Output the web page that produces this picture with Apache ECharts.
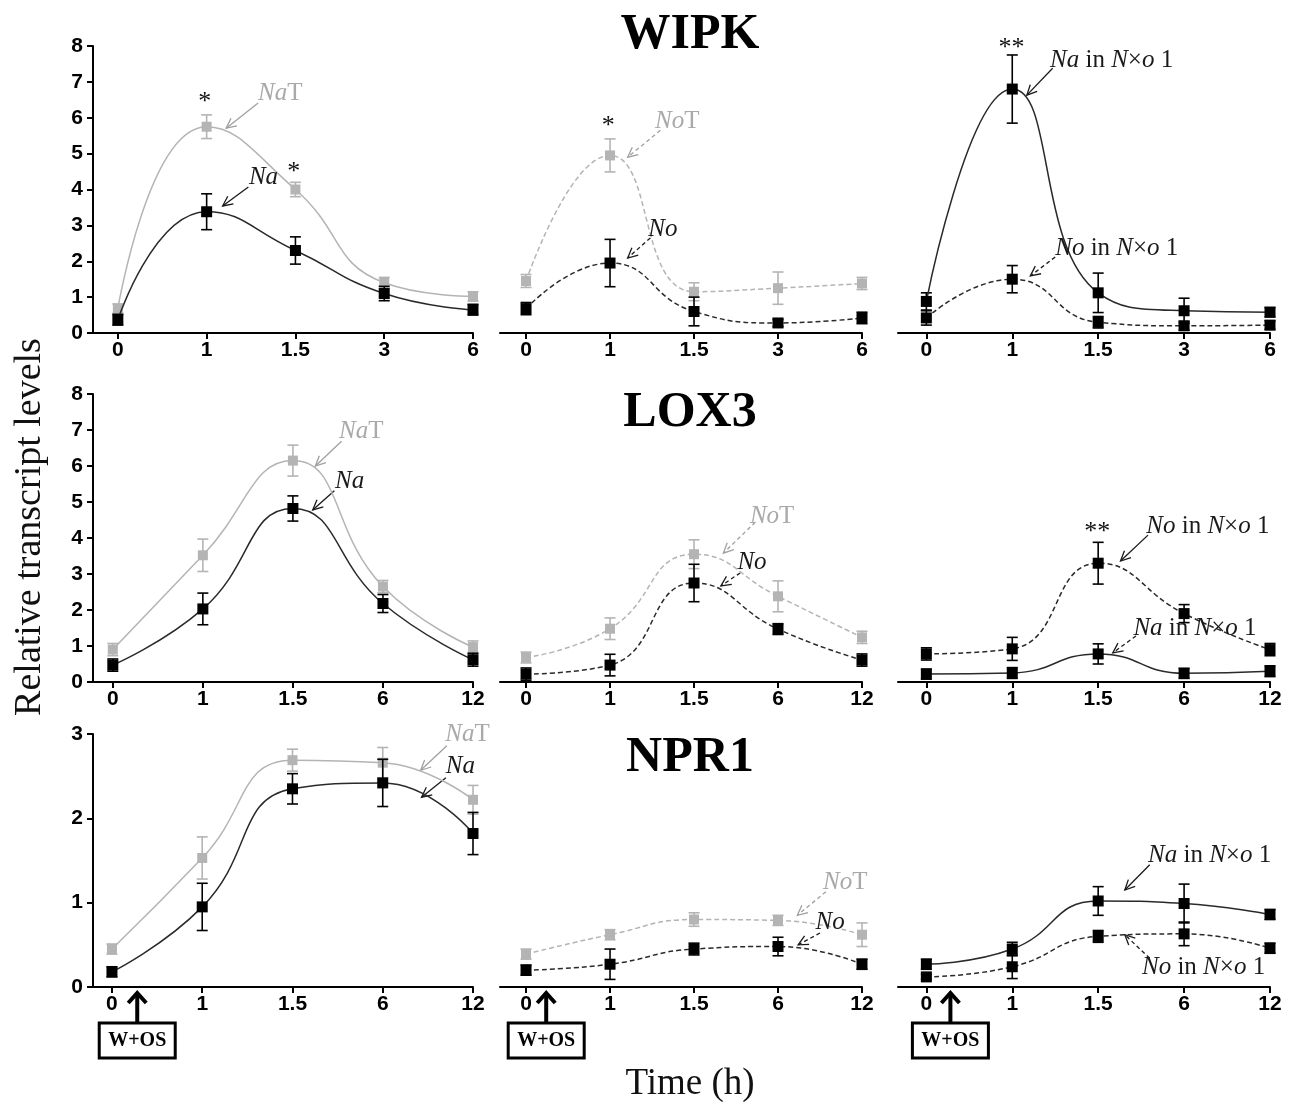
<!DOCTYPE html>
<html>
<head>
<meta charset="utf-8">
<script src="https://cdn.jsdelivr.net/npm/echarts@6/dist/echarts.min.js"></script>
<style>
  html, body { margin: 0; padding: 0; background: #fff; }
  #chart { width: 1289px; height: 1104px; }
</style>
</head>
<body>
<div id="chart"></div>
<script>
// ---- sampling times (tick labels) ----
const timesWIPK = ['0', '1', '1.5', '3', '6'];
const timesLate = ['0', '1', '1.5', '6', '12'];

// ---- WIPK ----
const wipkNaT = [0.68, 5.75, 4.0, 1.4, 1.02];
const wipkNaTErr = [0.13, 0.33, 0.2, 0.15, 0.13];
const wipkNa = [0.37, 3.38, 2.3, 1.1, 0.65];
const wipkNaErr = [0.15, 0.5, 0.38, 0.2, 0.15];
const wipkNoT = [1.45, 4.95, 1.15, 1.25, 1.38];
const wipkNoTErr = [0.18, 0.46, 0.25, 0.45, 0.17];
const wipkNo = [0.68, 1.95, 0.6, 0.28, 0.42];
const wipkNoErr = [0.17, 0.66, 0.4, 0.1, 0.16];
const wipkHybNa = [0.88, 6.8, 1.12, 0.62, 0.58];
const wipkHybNaErr = [0.24, 0.95, 0.55, 0.35, 0.13];
const wipkHybNo = [0.42, 1.5, 0.3, 0.2, 0.22];
const wipkHybNoErr = [0.2, 0.38, 0.16, 0.12, 0.12];

// ---- LOX3 ----
const loxNaT = [0.9, 3.52, 6.15, 2.65, 0.97];
const loxNaTErr = [0.17, 0.45, 0.43, 0.17, 0.17];
const loxNa = [0.47, 2.03, 4.82, 2.18, 0.62];
const loxNaErr = [0.17, 0.44, 0.35, 0.25, 0.18];
const loxNoT = [0.68, 1.48, 3.55, 2.38, 1.24];
const loxNoTErr = [0.15, 0.3, 0.4, 0.43, 0.17];
const loxNo = [0.22, 0.47, 2.75, 1.47, 0.61];
const loxNoErr = [0.17, 0.3, 0.52, 0.15, 0.17];
const loxHybNo = [0.78, 0.92, 3.3, 1.9, 0.9];
const loxHybNoErr = [0.17, 0.32, 0.58, 0.25, 0.17];
const loxHybNa = [0.22, 0.25, 0.78, 0.24, 0.3];
const loxHybNaErr = [0.14, 0.15, 0.28, 0.14, 0.15];

// ---- NPR1 ----
const nprNaT = [0.45, 1.53, 2.69, 2.66, 2.22];
const nprNaTErr = [0.06, 0.25, 0.13, 0.18, 0.17];
const nprNa = [0.18, 0.95, 2.35, 2.42, 1.82];
const nprNaErr = [0.06, 0.28, 0.18, 0.28, 0.25];
const nprNoT = [0.39, 0.62, 0.8, 0.79, 0.62];
const nprNoTErr = [0.06, 0.06, 0.08, 0.06, 0.14];
const nprNo = [0.2, 0.27, 0.45, 0.48, 0.27];
const nprNoErr = [0.06, 0.18, 0.07, 0.11, 0.06];
const nprHybNa = [0.27, 0.45, 1.02, 0.99, 0.86];
const nprHybNaErr = [0.06, 0.08, 0.17, 0.23, 0.06];
const nprHybNo = [0.12, 0.24, 0.6, 0.63, 0.46];
const nprHybNoErr = [0.03, 0.14, 0.07, 0.14, 0.06];

// ---- gene titles and y-axis maxima per row ----
const geneNames = ['WIPK', 'LOX3', 'NPR1'];
const rowMax = [8, 8, 3];

// ---- layout ----
const COLS = [{ left: 93, width: 380 }, { left: 500, width: 362 }, { left: 898, width: 372 }];
const ROWS = [{ top: 46, height: 287 }, { top: 394, height: 288 }, { top: 734, height: 253 }];
const X_MIN = [[-0.28, -0.31, -0.33], [-0.22, -0.31, -0.33], [-0.21, -0.31, -0.33]];
const GRAY = '#b4b4b4';
const DARK = '#2a2a2a';
const SERIF = '"Liberation Serif", "Times New Roman", serif';
const SANS = '"Liberation Sans", Arial, sans-serif';

// rich text segments: [text, style] with i = italic, n = upright
const NaT = [['Na', 'i'], ['T', 'n']];
const NoT = [['No', 'i'], ['T', 'n']];
const Na = [['Na', 'i']];
const No = [['No', 'i']];
const NaHyb = [['Na', 'i'], [' in ', 'n'], ['N', 'i'], ['×', 'n'], ['o', 'i'], [' 1', 'n']];
const NoHyb = [['No', 'i'], [' in ', 'n'], ['N', 'i'], ['×', 'n'], ['o', 'i'], [' 1', 'n']];

const panels = [
  { row: 0, col: 0, ticks: timesWIPK,
    lines: [{ v: wipkNaT, e: wipkNaTErr, gray: true, dash: false }, { v: wipkNa, e: wipkNaErr, gray: false, dash: false }],
    notes: [
      { seg: NaT, gray: true, dash: false, label: [1.83, 6.69], align: 'center', tail: [1.58, 6.41], tip: [1.22, 5.71] },
      { seg: Na, gray: false, dash: false, label: [1.64, 4.35], align: 'center', tail: [1.47, 4.07], tip: [1.18, 3.54] }
    ],
    stars: [{ t: '*', at: [0.98, 6.43] }, { t: '*', at: [1.98, 4.48] }] },
  { row: 0, col: 1, ticks: timesWIPK,
    lines: [{ v: wipkNoT, e: wipkNoTErr, gray: true, dash: true }, { v: wipkNo, e: wipkNoErr, gray: false, dash: true }],
    notes: [
      { seg: NoT, gray: true, dash: true, label: [1.8, 5.9], align: 'center', tail: [1.6, 5.65], tip: [1.21, 4.9] },
      { seg: No, gray: false, dash: true, label: [1.63, 2.9], align: 'center', tail: [1.48, 2.65], tip: [1.21, 2.09] }
    ],
    stars: [{ t: '*', at: [0.98, 5.77] }] },
  { row: 0, col: 2, ticks: timesWIPK,
    lines: [{ v: wipkHybNa, e: wipkHybNaErr, gray: false, dash: false }, { v: wipkHybNo, e: wipkHybNoErr, gray: false, dash: true }],
    notes: [
      { seg: NaHyb, gray: false, dash: false, label: [1.44, 7.6], align: 'left', tail: [1.47, 7.38], tip: [1.17, 6.63] },
      { seg: NoHyb, gray: false, dash: true, label: [1.5, 2.37], align: 'left', tail: [1.5, 2.12], tip: [1.21, 1.59] }
    ],
    stars: [{ t: '**', at: [0.99, 7.94] }] },
  { row: 1, col: 0, ticks: timesLate,
    lines: [{ v: loxNaT, e: loxNaTErr, gray: true, dash: false }, { v: loxNa, e: loxNaErr, gray: false, dash: false }],
    notes: [
      { seg: NaT, gray: true, dash: false, label: [2.76, 6.97], align: 'center', tail: [2.54, 6.69], tip: [2.25, 6.0] },
      { seg: Na, gray: false, dash: false, label: [2.63, 5.58], align: 'center', tail: [2.46, 5.31], tip: [2.22, 4.78] }
    ],
    stars: [] },
  { row: 1, col: 1, ticks: timesLate,
    lines: [{ v: loxNoT, e: loxNoTErr, gray: true, dash: true }, { v: loxNo, e: loxNoErr, gray: false, dash: true }],
    notes: [
      { seg: NoT, gray: true, dash: true, label: [2.93, 4.61], align: 'center', tail: [2.73, 4.44], tip: [2.35, 3.58] },
      { seg: No, gray: false, dash: true, label: [2.69, 3.31], align: 'center', tail: [2.55, 3.03], tip: [2.32, 2.67] }
    ],
    stars: [] },
  { row: 1, col: 2, ticks: timesLate,
    lines: [{ v: loxHybNo, e: loxHybNoErr, gray: false, dash: true }, { v: loxHybNa, e: loxHybNaErr, gray: false, dash: false }],
    notes: [
      { seg: NoHyb, gray: false, dash: false, label: [2.56, 4.33], align: 'left', tail: [2.58, 4.08], tip: [2.26, 3.36] },
      { seg: NaHyb, gray: false, dash: true, label: [2.41, 1.5], align: 'left', tail: [2.44, 1.28], tip: [2.17, 0.81] }
    ],
    stars: [{ t: '**', at: [1.99, 4.17] }] },
  { row: 2, col: 0, ticks: timesLate,
    lines: [{ v: nprNaT, e: nprNaTErr, gray: true, dash: false }, { v: nprNa, e: nprNaErr, gray: false, dash: false }],
    notes: [
      { seg: NaT, gray: true, dash: false, label: [3.94, 2.99], align: 'center', tail: [3.71, 2.86], tip: [3.42, 2.57] },
      { seg: Na, gray: false, dash: false, label: [3.86, 2.62], align: 'center', tail: [3.7, 2.48], tip: [3.43, 2.25] }
    ],
    stars: [], stim: 0.28 },
  { row: 2, col: 1, ticks: timesLate,
    lines: [{ v: nprNoT, e: nprNoTErr, gray: true, dash: true }, { v: nprNo, e: nprNoErr, gray: false, dash: true }],
    notes: [
      { seg: NoT, gray: true, dash: true, label: [3.8, 1.24], align: 'center', tail: [3.57, 1.13], tip: [3.23, 0.85] },
      { seg: No, gray: false, dash: true, label: [3.62, 0.77], align: 'center', tail: [3.5, 0.64], tip: [3.24, 0.5] }
    ],
    stars: [], stim: 0.24 },
  { row: 2, col: 2, ticks: timesLate,
    lines: [{ v: nprHybNa, e: nprHybNaErr, gray: false, dash: false }, { v: nprHybNo, e: nprHybNoErr, gray: false, dash: true }],
    notes: [
      { seg: NaHyb, gray: false, dash: false, label: [2.58, 1.56], align: 'left', tail: [2.6, 1.45], tip: [2.31, 1.15] },
      { seg: NoHyb, gray: false, dash: true, label: [2.51, 0.23], align: 'left', tail: [2.6, 0.34], tip: [2.31, 0.62] }
    ],
    stars: [], stim: 0.28 }
];

const grids = [], xAxes = [], yAxes = [], series = [];

panels.forEach((p, g) => {
  const c = COLS[p.col], r = ROWS[p.row];
  grids.push({ left: c.left, top: r.top, width: c.width, height: r.height, containLabel: false });
  const tickIdx = p.ticks.map((_, i) => i);
  xAxes.push({
    gridIndex: g, type: 'value', min: X_MIN[p.row][p.col], max: 4,
    axisLine: { show: true, onZero: false, lineStyle: { color: '#000', width: 2 } },
    axisTick: { show: true, inside: false, length: 6, customValues: tickIdx, lineStyle: { color: '#000', width: 2 } },
    axisLabel: {
      customValues: tickIdx, margin: 7, color: '#000', fontFamily: SANS, fontWeight: 'bold', fontSize: 21,
      formatter: v => p.ticks[Math.round(v)]
    },
    splitLine: { show: false }
  });
  const showY = p.col === 0;
  yAxes.push({
    gridIndex: g, type: 'value', min: 0, max: rowMax[p.row], interval: 1, show: showY,
    axisLine: { show: true, onZero: false, lineStyle: { color: '#000', width: 2 } },
    axisTick: { show: true, inside: false, length: 6, lineStyle: { color: '#000', width: 2 } },
    axisLabel: { margin: 10, color: '#000', fontFamily: SANS, fontWeight: 'bold', fontSize: 21 },
    splitLine: { show: false }
  });

  p.lines.forEach((s, k) => {
    const col = s.gray ? GRAY : DARK;
    const mark = s.gray ? GRAY : '#000';
    const zBase = 2 + k * 2;
    // error bars (mean ± SE)
    series.push({
      type: 'custom', xAxisIndex: g, yAxisIndex: g, z: zBase, clip: false, silent: true,
      encode: { x: 0, y: 1 },
      data: s.v.map((m, i) => [i, m, s.e[i]]),
      renderItem: (params, api) => {
        const x = api.value(0), m = api.value(1), e = api.value(2);
        const top = api.coord([x, m + e]);
        const bot = api.coord([x, m - e]);
        const hw = 5.5;
        const st = { stroke: mark, lineWidth: 1.6 };
        return {
          type: 'group', children: [
            { type: 'line', shape: { x1: top[0], y1: top[1], x2: bot[0], y2: bot[1] }, style: st },
            { type: 'line', shape: { x1: top[0] - hw, y1: top[1], x2: top[0] + hw, y2: top[1] }, style: st },
            { type: 'line', shape: { x1: bot[0] - hw, y1: bot[1], x2: bot[0] + hw, y2: bot[1] }, style: st }
          ]
        };
      }
    });
    series.push({
      type: 'line', xAxisIndex: g, yAxisIndex: g, z: zBase + 1,
      data: s.v.map((m, i) => [i, m]),
      smooth: 0.5, symbol: 'rect', symbolSize: s.gray ? 10 : 11, showSymbol: true,
      itemStyle: { color: mark },
      lineStyle: { color: col, width: 1.5, type: s.dash ? [5, 3] : 'solid' },
      emphasis: { disabled: true }
    });
  });
});

const chart = echarts.init(document.getElementById('chart'), null, { renderer: 'canvas' });
chart.setOption({
  animation: false,
  backgroundColor: '#fff',
  grid: grids, xAxis: xAxes, yAxis: yAxes, series: series
});

// ---- annotations: titles, labels with arrows, significance marks, treatment boxes ----
const graphics = [];
const px = (g, pt) => chart.convertToPixel({ gridIndex: g }, pt);

function richText(seg, color, size) {
  let text = '';
  seg.forEach(([t, k]) => { text += '{' + k + '|' + t + '}'; });
  const base = { fontFamily: SERIF, fontSize: size, fill: color };
  return {
    text,
    rich: {
      i: Object.assign({}, base, { fontStyle: 'italic' }),
      n: Object.assign({}, base, { fontStyle: 'normal' })
    }
  };
}

function arrow(from, to, color, dash) {
  const dx = to[0] - from[0], dy = to[1] - from[1];
  const len = Math.hypot(dx, dy), ux = dx / len, uy = dy / len;
  const L = 11, a = 0.45;
  const w1 = [to[0] - L * (ux * Math.cos(a) - uy * Math.sin(a)), to[1] - L * (uy * Math.cos(a) + ux * Math.sin(a))];
  const w2 = [to[0] - L * (ux * Math.cos(-a) - uy * Math.sin(-a)), to[1] - L * (uy * Math.cos(-a) + ux * Math.sin(-a))];
  graphics.push({ type: 'line', silent: true, shape: { x1: from[0], y1: from[1], x2: to[0], y2: to[1] },
    style: { stroke: color, lineWidth: 1.3, lineDash: dash ? [4, 3] : null } });
  graphics.push({ type: 'polyline', silent: true, shape: { points: [w1, to, w2] },
    style: { stroke: color, lineWidth: 1.3, fill: null } });
}

panels.forEach((p, g) => {
  p.notes.forEach(n => {
    const color = n.gray ? '#a9a9a9' : '#1a1a1a';
    const lp = px(g, n.label);
    const st = richText(n.seg, color, 25);
    st.textAlign = n.align; st.textVerticalAlign = 'middle';
    graphics.push({ type: 'text', silent: true, x: lp[0], y: lp[1], style: st, z: 50 });
    arrow(px(g, n.tail), px(g, n.tip), n.gray ? '#a0a0a0' : '#1a1a1a', n.dash);
  });
  p.stars.forEach(s => {
    const sp = px(g, s.at);
    graphics.push({ type: 'text', silent: true, x: sp[0], y: sp[1],
      style: { text: s.t, fontFamily: SERIF, fontSize: 26, fill: '#111', textAlign: 'center', textVerticalAlign: 'middle' } });
  });
  if (p.stim !== undefined) {
    const base = px(g, [p.stim, 0]);
    const x = base[0], yTip = base[1] + 5;
    graphics.push({ type: 'line', silent: true, shape: { x1: x, y1: yTip + 2, x2: x, y2: yTip + 30 },
      style: { stroke: '#000', lineWidth: 4 } });
    graphics.push({ type: 'polyline', silent: true, shape: { points: [[x - 9, yTip + 11], [x, yTip + 1], [x + 9, yTip + 11]] },
      style: { stroke: '#000', lineWidth: 4, fill: null, lineJoin: 'miter' } });
    graphics.push({ type: 'rect', silent: true, shape: { x: x - 38, y: yTip + 31, width: 76, height: 35 },
      style: { stroke: '#000', lineWidth: 3, fill: '#fff' } });
    graphics.push({ type: 'text', silent: true, x: x, y: yTip + 49,
      style: { text: 'W+OS', fontFamily: SERIF, fontWeight: 'bold', fontSize: 20, fill: '#000', textAlign: 'center', textVerticalAlign: 'middle' } });
  }
});

// gene titles
const titleY = [35, 413, 758];
geneNames.forEach((name, r) => {
  graphics.push({ type: 'text', silent: true, x: 690, y: titleY[r],
    style: { text: name, fontFamily: SERIF, fontWeight: 'bold', fontSize: 50, fill: '#000', textAlign: 'center', textVerticalAlign: 'middle' } });
});

// axis titles
graphics.push({ type: 'text', silent: true, x: 30, y: 527, rotation: Math.PI / 2,
  style: { text: 'Relative transcript levels', fontFamily: SERIF, fontSize: 38, fill: '#111', textAlign: 'center', textVerticalAlign: 'middle' } });
graphics.push({ type: 'text', silent: true, x: 690, y: 1084,
  style: { text: 'Time (h)', fontFamily: SERIF, fontSize: 37, fill: '#111', textAlign: 'center', textVerticalAlign: 'middle' } });

chart.setOption({ graphic: { elements: graphics } });
</script>
</body>
</html>
